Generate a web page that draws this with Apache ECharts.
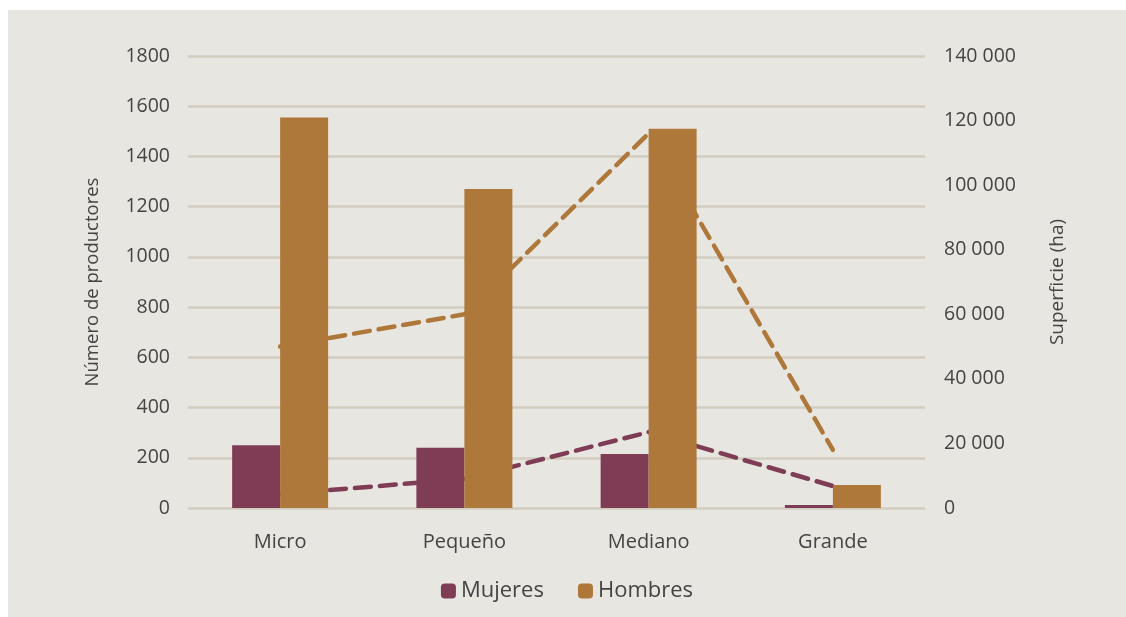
<!DOCTYPE html>
<html>
<head>
<meta charset="utf-8">
<script src="https://cdn.jsdelivr.net/npm/echarts@6/dist/echarts.min.js"></script>
<style>
  html, body { margin: 0; padding: 0; background: #ffffff; }
  #chart { position: absolute; left: 8px; top: 10px; width: 1118px; height: 607px; background: #e8e6e1; }
</style>
</head>
<body>
<div id="chart"></div>
<script>
var categories = ['Micro', 'Pequeño', 'Mediano', 'Grande'];
var productoresMujeres = [250, 240, 215, 12];
var productoresHombres = [1555, 1270, 1510, 92];
var superficieMujeres = [4300, 9000, 23500, 6800];
var superficieHombres = [50000, 60000, 116000, 18000];

var colMujeres = '#7f3d55';
var colHombres = '#ae783a';
var txt = '#444444';
var font = 'Open Sans';

function spaced(v) {
    return String(v).replace(/\B(?=(\d{3})+(?!\d))/g, ' ');
}

var chart = echarts.init(document.getElementById('chart'));
chart.setOption({
    backgroundColor: '#e8e6e1',
    textStyle: { fontFamily: font },
    grid: { left: 180, right: 201, top: 46, bottom: 109, containLabel: false },
    legend: {
        data: ['Mujeres', 'Hombres'],
        bottom: 10,
        left: 'center',
        itemWidth: 15,
        itemHeight: 15,
        itemGap: 34,
        textStyle: { color: txt, fontSize: 22, fontFamily: font }
    },
    xAxis: {
        type: 'category',
        data: categories,
        axisLine: { show: false },
        axisTick: { show: false },
        axisLabel: { color: txt, fontSize: 20, margin: 24 }
    },
    yAxis: [{
        type: 'value',
        min: 0, max: 1800, interval: 200,
        name: 'Número de productores',
        nameLocation: 'middle',
        nameGap: 86,
        nameTextStyle: { color: txt, fontSize: 18.5 },
        axisLine: { show: false },
        axisTick: { show: false },
        axisLabel: { color: txt, fontSize: 19.5, margin: 18, formatter: function (v) { return String(v); } },
        splitLine: { lineStyle: { color: '#d3cdc0', width: 2.5 } }
    }, {
        type: 'value',
        min: 0, max: 140000, interval: 20000,
        name: 'Superficie (ha)',
        nameLocation: 'middle',
        nameGap: 123,
        nameRotate: 90,
        nameTextStyle: { color: txt, fontSize: 19 },
        axisLine: { show: false },
        axisTick: { show: false },
        splitLine: { show: false },
        axisLabel: { color: txt, fontSize: 19.5, margin: 19, formatter: spaced }
    }],
    series: [{
        name: 'Mujeres',
        type: 'bar',
        data: productoresMujeres,
        barWidth: 48,
        barGap: '0%',
        z: 3,
        itemStyle: { color: colMujeres }
    }, {
        name: 'Hombres',
        type: 'bar',
        data: productoresHombres,
        barWidth: 48,
        z: 3,
        itemStyle: { color: colHombres }
    }, {
        name: 'Superficie Mujeres',
        type: 'line',
        yAxisIndex: 1,
        data: superficieMujeres,
        symbol: 'none',
        z: 2,
        lineStyle: { color: colMujeres, width: 4.5, type: [16, 9], cap: 'round' }
    }, {
        name: 'Superficie Hombres',
        type: 'line',
        yAxisIndex: 1,
        data: superficieHombres,
        symbol: 'none',
        z: 2,
        lineStyle: { color: colHombres, width: 4.5, type: [16, 9], cap: 'round' }
    }]
});
</script>
</body>
</html>
